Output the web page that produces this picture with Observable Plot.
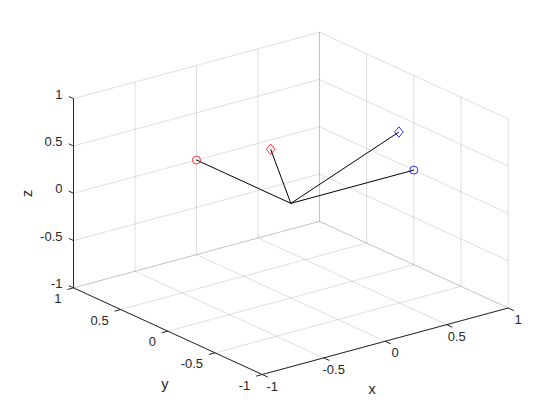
<!DOCTYPE html>
<html><head><meta charset="utf-8">
<script src="https://cdn.jsdelivr.net/npm/d3@7"></script>
<script src="https://cdn.jsdelivr.net/npm/@observablehq/plot@0.6"></script>
<style>body{margin:0;background:#fff}</style>
</head><body><div id="chart"></div>
<script>
// ---- data ----
const ticks = [-1, -0.5, 0, 0.5, 1];
const tickLabels = ["-1", "-0.5", "0", "0.5", "1"];
const axisNames = ["x", "y", "z"];
const vecX = [0, 0.5, 1, 0.61];
const vecY = [1, 0.866, 0, -0.35];
const vecZ = [0, 0, 0, 0.70];
const vecColor = ["#ff0000", "#ff0000", "#0000ff", "#0000ff"];
const vecMarker = ["circle", "diamond", "circle", "diamond"];
const viewAz = -37.5, viewEl = 30;

// ---- projection (MATLAB-style view) ----
const az = viewAz * Math.PI / 180, el = viewEl * Math.PI / 180;
const proj = ([x, y, z]) => [
  x * Math.cos(az) + y * Math.sin(az),
  -x * Math.sin(az) * Math.sin(el) + y * Math.cos(az) * Math.sin(el) + z * Math.cos(el)
];
const lo = ticks[0], hi = ticks[ticks.length - 1];
const corners = [];
for (const a of [lo, hi]) for (const b of [lo, hi]) for (const c of [lo, hi]) corners.push(proj([a, b, c]));
const hMax = d3.max(corners, d => Math.abs(d[0]));
const vMax = d3.max(corners, d => Math.abs(d[1]));

const seg = (a, b) => { const [x1, y1] = proj(a), [x2, y2] = proj(b); return {x1, y1, x2, y2}; };

// grid lines on back walls and floor
const grid = [];
for (const t of ticks) {
  grid.push(seg([t, hi, lo], [t, hi, hi]));   // wall y=hi, vertical
  grid.push(seg([lo, hi, t], [hi, hi, t]));   // wall y=hi, horizontal
  grid.push(seg([hi, t, lo], [hi, t, hi]));   // wall x=hi, vertical
  grid.push(seg([hi, lo, t], [hi, hi, t]));   // wall x=hi, horizontal
  grid.push(seg([t, lo, lo], [t, hi, lo]));   // floor, x const
  grid.push(seg([lo, t, lo], [hi, t, lo]));   // floor, y const
}
const axesLines = [
  seg([lo, lo, lo], [hi, lo, lo]),
  seg([lo, lo, lo], [lo, hi, lo]),
  seg([lo, hi, lo], [lo, hi, hi])
];
const tickSegs = [];
for (const t of ticks) {
  tickSegs.push(seg([t, lo, lo], [t, lo - 0.06, lo]));
  tickSegs.push(seg([lo, t, lo], [lo - 0.05, t, lo]));
  tickSegs.push(seg([lo, hi, t], [lo, hi + 0.05, t]));
}
const xLab = ticks.map((t, i) => { const [x, y] = proj([t, lo, lo]); return {x, y, text: tickLabels[i]}; });
const yLab = ticks.map((t, i) => { const [x, y] = proj([lo, t, lo]); return {x, y, text: tickLabels[i]}; });
const zLab = ticks.map((t, i) => { const [x, y] = proj([lo, hi, t]); return {x, y, text: tickLabels[i]}; });
const mid = (lo + hi) / 2;
const [axX, axY] = proj([mid, lo, lo]);
const [ayX, ayY] = proj([lo, mid, lo]);
const [azX, azY] = proj([lo, hi, mid]);

const [ox, oy] = proj([0, 0, 0]);
const vecs = vecX.map((_, i) => {
  const [x, y] = proj([vecX[i], vecY[i], vecZ[i]]);
  return {x1: ox, y1: oy, x2: x, y2: y, color: vecColor[i], marker: vecMarker[i]};
});

const diamondTall = {
  draw(ctx, size) {
    const s = Math.sqrt(size), w = s * 0.6, h = s * 0.74;
    ctx.moveTo(0, -h); ctx.lineTo(w, 0); ctx.lineTo(0, h); ctx.lineTo(-w, 0); ctx.closePath();
  }
};

const ink = "#262626";
const font = "'Liberation Sans', Arial, Helvetica, sans-serif";

const chart = Plot.plot({
  width: 560, height: 420,
  marginLeft: 73, marginRight: 52.3, marginTop: 31.7, marginBottom: 46,
  x: {domain: [-hMax, hMax], axis: null},
  y: {domain: [-vMax, vMax], axis: null},
  style: {fontFamily: font, fontSize: "13px", color: ink, background: "#fff", overflow: "visible"},
  marks: [
    Plot.link(grid, {x1: "x1", y1: "y1", x2: "x2", y2: "y2", stroke: ink, strokeOpacity: 0.15, strokeWidth: 1}),
    Plot.link(axesLines, {x1: "x1", y1: "y1", x2: "x2", y2: "y2", stroke: ink, strokeWidth: 1}),
    Plot.link(tickSegs, {x1: "x1", y1: "y1", x2: "x2", y2: "y2", stroke: ink, strokeWidth: 1}),
    Plot.link(vecs, {x1: "x1", y1: "y1", x2: "x2", y2: "y2", stroke: "#000", strokeWidth: 1}),
    Plot.dot(vecs, {filter: d => d.marker === "circle", x: "x2", y: "y2", stroke: "color", symbol: "circle", r: 4, strokeWidth: 0.8}),
    Plot.dot(vecs, {filter: d => d.marker === "diamond", x: "x2", y: "y2", stroke: "color", symbol: diamondTall, r: 4, strokeWidth: 0.8}),
    Plot.text(xLab, {x: "x", y: "y", text: "text", dx: 10, dy: 12, textAnchor: "middle", fill: ink, fontSize: 13}),
    Plot.text(yLab, {x: "x", y: "y", text: "text", dx: -12, dy: 11, textAnchor: "end", fill: ink, fontSize: 13}),
    Plot.text(zLab, {x: "x", y: "y", text: "text", dx: -11, dy: -4, textAnchor: "end", fill: ink, fontSize: 13}),
    Plot.text([axisNames[0]], {x: () => axX, y: () => axY, text: d => d, dx: -13, dy: 48, fill: ink, fontSize: 14.5}),
    Plot.text([axisNames[1]], {x: () => ayX, y: () => ayY, text: d => d, dx: -3, dy: 53, fill: ink, fontSize: 14.5}),
    Plot.text([axisNames[2]], {x: () => azX, y: () => azY, text: d => d, dx: -46, dy: 0, rotate: -90, fill: ink, fontSize: 14.5})
  ]
});
document.getElementById("chart").appendChild(chart);
</script>
</body></html>
